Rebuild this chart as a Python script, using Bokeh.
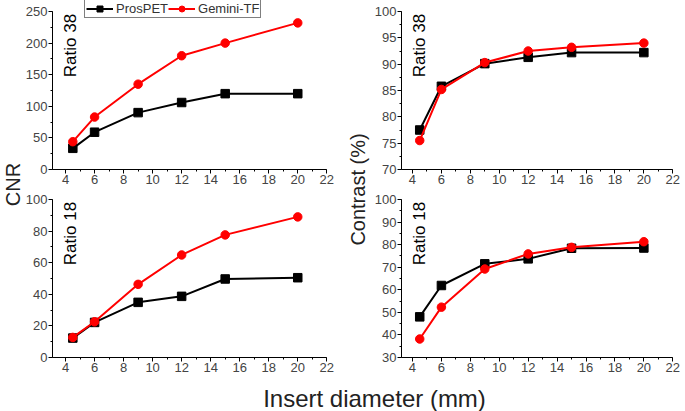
import numpy as np
from bokeh.plotting import figure
from bokeh.layouts import row, column
from bokeh.models import Label, Legend, LegendItem, SingleIntervalTicker
from bokeh.embed import file_html
from bokeh.resources import INLINE

# insert diameters (mm)
diam = [4.5, 6, 9, 12, 15, 20]

# CNR, ratio 38 and 18
cnr38_prospet = [33.5, 59, 90, 106, 120, 120]
cnr38_gemini = [44, 83, 135, 180, 200, 232]
cnr18_prospet = [12.3, 22.2, 34.9, 38.7, 49.7, 50.5]
cnr18_gemini = [12.7, 22.6, 46.3, 64.9, 77.6, 89]

# contrast (%), ratio 38 and 18
con38_prospet = [77.5, 85.8, 90.1, 91.3, 92.2, 92.2]
con38_gemini = [75.5, 85.2, 90.3, 92.5, 93.2, 94.0]
con18_prospet = [48, 61.9, 71.5, 73.7, 78.4, 78.5]
con18_gemini = [38.2, 52.3, 69.2, 75.9, 78.8, 81.3]

FONT = "Liberation Sans"
AX = 158      # y axis length in px


def panel(ylo, yhi, step, x0, fw, above, top_border, left_border, right_border, ratio):
    frame_h = AX + above
    ytop = ylo + (yhi - ylo) * frame_h / AX
    p = figure(frame_width=fw, frame_height=frame_h, x_range=(x0, 22.05),
               y_range=(ylo, ytop), output_backend="svg", toolbar_location=None,
               min_border_left=left_border, min_border_right=right_border,
               min_border_top=top_border, min_border_bottom=20)
    p.grid.visible = False
    p.outline_line_color = None
    p.background_fill_color = None
    p.border_fill_color = None
    p.xaxis.ticker = SingleIntervalTicker(interval=2, num_minor_ticks=2)
    p.yaxis.ticker = SingleIntervalTicker(interval=step, num_minor_ticks=2)
    p.xaxis.bounds = (x0, 22)
    p.yaxis.bounds = (ylo, yhi)
    for ax in (p.xaxis, p.yaxis):
        ax.axis_line_color = "black"
        ax.major_tick_line_color = "black"
        ax.minor_tick_line_color = "black"
        ax.major_tick_in = 0
        ax.major_tick_out = 4
        ax.minor_tick_in = 0
        ax.minor_tick_out = 2
        ax.major_label_text_font = FONT
        ax.major_label_text_font_size = "13px"
        ax.major_label_text_color = "#444444"
        ax.major_label_standoff = 1
    p.add_layout(Label(x=x0 + 1.24, y=yhi - (yhi - ylo) * 0.015, text=ratio,
                       angle=np.pi / 2, text_align="right", text_baseline="middle",
                       text_font=FONT, text_font_size="17px", text_color="black"))
    return p


def series(p, ys_black, ys_red):
    l1 = p.line(diam, ys_black, line_color="black", line_width=2)
    m1 = p.scatter(diam, ys_black, marker="square", size=8.5, fill_color="black",
                   line_color="black")
    l2 = p.line(diam, ys_red, line_color="red", line_width=2)
    m2 = p.scatter(diam, ys_red, marker="circle", size=8.5, fill_color="red",
                   line_color="red")
    return [l1, m1], [l2, m2]


tl = panel(0, 250, 50, 3.1, 275, 11, 0, 27, 8, "Ratio 38")
r_pros, r_gem = series(tl, cnr38_prospet, cnr38_gemini)
legend = Legend(items=[LegendItem(label="ProsPET", renderers=r_pros),
                       LegendItem(label="Gemini-TF", renderers=r_gem)],
                orientation="horizontal", location=(32, AX + 11 - 18), margin=0,
                padding=1, spacing=0, label_standoff=3, glyph_width=27,
                glyph_height=15, label_height=15, border_line_color="black",
                label_text_font=FONT, label_text_font_size="13px",
                label_text_color="#333333", background_fill_alpha=1)
tl.add_layout(legend, "center")

tr = panel(70, 100, 5, 3.24, 272, 11, 0, 27, 9, "Ratio 38")
series(tr, con38_prospet, con38_gemini)

bl = panel(0, 100, 20, 3.1, 275, 0, 10, 27, 8, "Ratio 18")
series(bl, cnr18_prospet, cnr18_gemini)

br = panel(30, 100, 10, 3.24, 272, 0, 10, 27, 9, "Ratio 18")
series(br, con18_prospet, con18_gemini)


def text_fig(w, h, x, y, txt, angle, size):
    f = figure(width=w, height=h, x_range=(0, w), y_range=(0, h),
               x_axis_type=None, y_axis_type=None, output_backend="svg",
               toolbar_location=None, min_border=0)
    f.grid.visible = False
    f.outline_line_color = None
    f.border_fill_color = None
    f.background_fill_color = None
    f.add_layout(Label(x=x, y=y, text=txt, angle=angle, text_align="center",
                       text_baseline="middle", text_font=FONT,
                       text_font_size=size, text_color="#222222"))
    return f


# rows above the x label are 189 + 188 = 377 px high
cnr_lbl = text_fig(22, 377, 12, 377 - 184, "CNR", np.pi / 2, "20px")
con_lbl = text_fig(36, 377, 22, 377 - 189, "Contrast (%)", np.pi / 2, "20px")
x_lbl = text_fig(680, 34, 374, 13, "Insert diameter (mm)", 0, "24px")

p = column(row(cnr_lbl, column(tl, bl), con_lbl, column(tr, br)), x_lbl)

open("out.html", "w").write(file_html(p, INLINE))
